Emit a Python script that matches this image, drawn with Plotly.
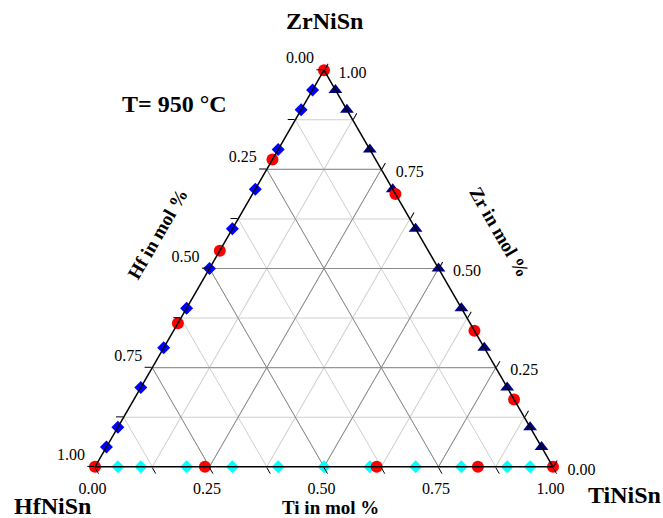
import plotly.graph_objects as go

# ---- data (a = Zr, b = Hf, c = Ti; mole fractions) ----
blue_hf = [0.05, 0.10, 0.20, 0.30, 0.40, 0.50, 0.60, 0.70, 0.80, 0.90, 0.95]   # Zr-Hf edge
navy_zr = [0.95, 0.90, 0.80, 0.70, 0.60, 0.50, 0.40, 0.30, 0.20, 0.10, 0.05]   # Zr-Ti edge
cyan_ti = [0.05, 0.10, 0.20, 0.30, 0.40, 0.50, 0.60, 0.70, 0.80, 0.90, 0.95]   # Hf-Ti edge

red_zr = [1.00, 0.775, 0.545, 0.362, 0.00, 0.00, 0.00, 0.00, 0.00, 0.17, 0.343, 0.688]
red_hf = [0.00, 0.225, 0.455, 0.638, 1.00, 0.76, 0.385, 0.164, 0.00, 0.00, 0.00, 0.00]
red_ti = [0.00, 0.00, 0.00, 0.00, 0.00, 0.24, 0.615, 0.836, 1.00, 0.83, 0.657, 0.312]

tick_vals = [0, 0.125, 0.25, 0.375, 0.5, 0.625, 0.75, 0.875, 1.0]
major_vals = [0.25, 0.5, 0.75]
label_vals = [0, 0.25, 0.5, 0.75, 1.0]

SERIF = "Liberation Serif"

fig = go.Figure()

# major grid lines (darker)
ga, gb, gc = [], [], []
for v in major_vals:
    for seg in [((v, 1 - v, 0), (v, 0, 1 - v)),
                ((1 - v, v, 0), (0, v, 1 - v)),
                ((1 - v, 0, v), (0, 1 - v, v))]:
        for p in seg:
            ga.append(p[0]); gb.append(p[1]); gc.append(p[2])
        ga.append(None); gb.append(None); gc.append(None)
fig.add_trace(go.Scatterternary(a=ga, b=gb, c=gc, mode="lines",
                                line=dict(color="#8a8a8a", width=1),
                                hoverinfo="skip", showlegend=False))

fig.add_trace(go.Scatterternary(
    a=[1 - h for h in blue_hf], b=blue_hf, c=[0] * len(blue_hf),
    mode="markers", cliponaxis=False,
    marker=dict(symbol="diamond", size=10, color="#0000ff"), showlegend=False))

fig.add_trace(go.Scatterternary(
    a=navy_zr, b=[0] * len(navy_zr), c=[1 - z for z in navy_zr],
    mode="markers", cliponaxis=False,
    marker=dict(symbol="triangle-up", size=12, color="#000080"), showlegend=False))

fig.add_trace(go.Scatterternary(
    a=[0] * len(cyan_ti), b=[1 - t for t in cyan_ti], c=cyan_ti,
    mode="markers", cliponaxis=False,
    marker=dict(symbol="diamond", size=10, color="#00ffff"), showlegend=False))

fig.add_trace(go.Scatterternary(
    a=red_zr, b=red_hf, c=red_ti,
    mode="markers", cliponaxis=False,
    marker=dict(symbol="circle", size=12, color="#ff0000"), showlegend=False))


def axis(fmt="{}"):
    return dict(
        tickmode="array",
        tickvals=tick_vals,
        ticktext=[(fmt.format(f"{1 - v:.2f}") if v in label_vals else "") for v in tick_vals],
        ticks="outside", ticklen=7, tickwidth=1.3, tickcolor="black",
        showgrid=True, gridcolor="#cfcfcf", gridwidth=1,
        showline=True, linecolor="black", linewidth=1.5,
        tickfont=dict(family=SERIF, size=16, color="black"),
        title=dict(text=""),
        min=0,
    )


fig.update_layout(
    width=663, height=518,
    margin=dict(l=95, r=110, t=70, b=51),
    paper_bgcolor="white",
    showlegend=False,
    ternary=dict(
        sum=1,
        bgcolor="white",
        domain=dict(x=[0, 1], y=[0, 1]),
        aaxis=axis("{}<br> "),
        baxis=axis("{}&nbsp;&nbsp;&nbsp;"),
        caxis=axis(" <br>&nbsp;&nbsp;{}"),
    ),
    font=dict(family=SERIF, color="black"),
)

ann = [
    ("<b>ZrNiSn</b>", 0.5, 1.1234, 24, 0),
    ("<b>T= 950 °C</b>", 0.1725, 0.9144, 24, 0),
    ("<b>HfNiSn</b>", -0.0928, -0.0982, 24, 0),
    ("<b>TiNiSn</b>", 1.157, -0.0705, 24, 0),
    ("<b>Ti in mol %</b>", 0.515, -0.1010, 19, 0),
    ("<b>Hf in mol %</b>", 0.1354, 0.5869, 19, -60),
    ("<b>Zr in mol %</b>", 0.882, 0.592, 19, 60),
]
for text, x, y, size, ang in ann:
    fig.add_annotation(text=text, x=x, y=y, xref="paper", yref="paper",
                       xanchor="center", yanchor="middle", showarrow=False,
                       textangle=ang,
                       font=dict(family=SERIF, size=size, color="black"))

fig.write_html("out.html",
               config={"displayModeBar": False},
               post_script="document.body.style.margin='0';document.body.style.overflow='hidden';")
